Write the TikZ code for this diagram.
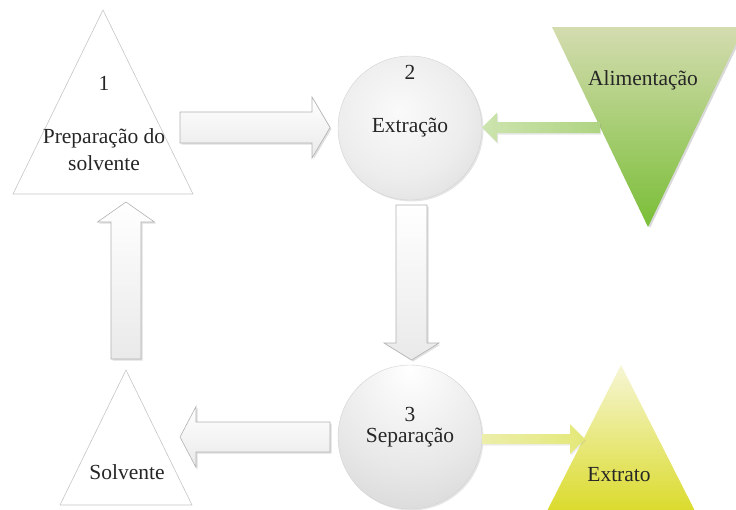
\documentclass[tikz,border=0pt]{standalone}
\usepackage{fontspec}
\setmainfont{LiberationSerif}[Extension=.ttf,UprightFont=*-Regular,BoldFont=*-Bold,ItalicFont=*-Italic,BoldItalicFont=*-BoldItalic]
\usetikzlibrary{calc,shadows}
\definecolor{alimtop}{RGB}{212,220,176}
\definecolor{alimbot}{RGB}{122,190,55}
\definecolor{extrtop}{RGB}{246,246,214}
\definecolor{extrbot}{RGB}{218,218,40}
\definecolor{greenarrL}{RGB}{205,228,175}
\definecolor{greenarrR}{RGB}{175,212,130}
\definecolor{yelarrL}{RGB}{236,238,170}
\definecolor{yelarrR}{RGB}{228,232,120}
\pgfdeclareradialshading{ballA}{\pgfpoint{-4bp}{6bp}}{color(0bp)=(gray!4); color(22bp)=(gray!14); color(50bp)=(gray!38); color(100bp)=(gray!38)}
\pgfdeclareradialshading{ballB}{\pgfpoint{0bp}{24bp}}{color(0bp)=(white); color(28bp)=(gray!18); color(74bp)=(gray!55); color(100bp)=(gray!55)}
% #1 style, #2 from, #3 to, #4 body half width, #5 head half width, #6 head length
\newcommand{\blockarr}[6]{%
  \coordinate (hb) at ($(#3)!#6!(#2)$);
  \path[#1] ($(#2)!#4!90:(#3)$) -- ($(hb)!#4!90:(#3)$) -- ($(hb)!#5!90:(#3)$)
    -- (#3) -- ($(hb)!#5!-90:(#3)$) -- ($(hb)!#4!-90:(#3)$) -- ($(#2)!#4!-90:(#3)$) -- cycle;
}
\begin{document}
\begin{tikzpicture}[x=1pt,y=-1pt,
  txt/.style={font=\fontsize{21.5}{27}\selectfont, align=center, inner sep=0pt, text=black!85},
  tri/.style={draw=gray!45, line width=0.6pt, fill=white},
  bigarrow/.style={draw=gray!60, line width=0.6pt, top color=white, bottom color=gray!17,
    drop shadow={opacity=0.25, shadow xshift=1.5pt, shadow yshift=-1.5pt}},
  greenarrow/.style={left color=greenarrL, right color=greenarrR,
    drop shadow={opacity=0.2, shadow xshift=1pt, shadow yshift=-1.5pt}},
  yelarrow/.style={left color=yelarrL, right color=yelarrR,
    drop shadow={opacity=0.15, shadow xshift=1pt, shadow yshift=-1.5pt}}]
\useasboundingbox (0,0) rectangle (736,509);
\begin{scope}
\clip (0,0) rectangle (736,509);

% triangle 1
\coordinate (t1a) at (103,10);
\coordinate (t1l) at (13,194);
\coordinate (t1r) at (193,194);
\draw[tri] (t1a) -- (t1l) -- (t1r) -- cycle;
\node[txt] (n1) at (104,83) {1};
\node[txt] (prep) at (104,150) {Preparação do\\solvente};

% triangle Solvente
\coordinate (tsa) at (126,370);
\coordinate (tsl) at (60,505);
\coordinate (tsr) at (192,505);
\draw[tri] (tsa) -- (tsl) -- (tsr) -- cycle;
\node[txt] (solv) at (127,472) {Solvente};

% Alimentacao (inverted triangle)
\coordinate (tal) at (552,27);
\coordinate (tar) at (744,27);
\coordinate (tab) at (648,227);
\path[top color=alimtop, bottom color=alimbot,
  drop shadow={opacity=0.3, shadow xshift=2pt, shadow yshift=-1pt}]
  (tal) -- (tar) -- (tab) -- cycle;
\node[txt] (alim) at (643,80) {Alimentação};

% Extrato triangle
\coordinate (tea) at (621,365);
\coordinate (tel) at (545,515);
\coordinate (ter) at (697,515);
\path[top color=extrtop, bottom color=extrbot] (tea) -- (tel) -- (ter) -- cycle;
\node[txt] (extr) at (619,475) {Extrato};

% circle 2
\path[shading=ballA, draw=gray!35, line width=0.4pt,
  drop shadow={opacity=0.2, shadow xshift=1.5pt, shadow yshift=-1.5pt}]
  (410,128) circle[radius=72];
\node[txt] (n2) at (410,72) {2};
\node[txt] (extra) at (410,128) {Extração};

% circle 3
\path[shading=ballB, draw=gray!35, line width=0.4pt,
  drop shadow={opacity=0.2, shadow xshift=1.5pt, shadow yshift=-1.5pt}]
  (410,437) circle[radius=72];
\node[txt] (n3) at (410,414) {3};
\node[txt] (sepa) at (410,438) {Separação};

% arrows
\coordinate (a12s) at (180,127.5);
\coordinate (a12e) at (330,127.5);
\blockarr{bigarrow}{a12s}{a12e}{15.5pt}{30.5pt}{18pt}

\coordinate (a23s) at (411.5,205);
\coordinate (a23e) at (411.5,360);
\blockarr{bigarrow}{a23s}{a23e}{15.5pt}{27.5pt}{17pt}

\coordinate (a3ss) at (330,437);
\coordinate (a3se) at (180,437);
\blockarr{bigarrow}{a3ss}{a3se}{15pt}{30.5pt}{16pt}

\coordinate (as1s) at (126,359);
\coordinate (as1e) at (126,202);
\blockarr{bigarrow}{as1s}{as1e}{15pt}{28.5pt}{20pt}

\coordinate (aa2s) at (600,127.5);
\coordinate (aa2e) at (482,127.5);
\blockarr{greenarrow}{aa2s}{aa2e}{5.5pt}{15pt}{15pt}

\coordinate (a3es) at (482,439);
\coordinate (a3ee) at (585,439);
\blockarr{yelarrow}{a3es}{a3ee}{5pt}{15pt}{15pt}
\end{scope}
\end{tikzpicture}
\end{document}
